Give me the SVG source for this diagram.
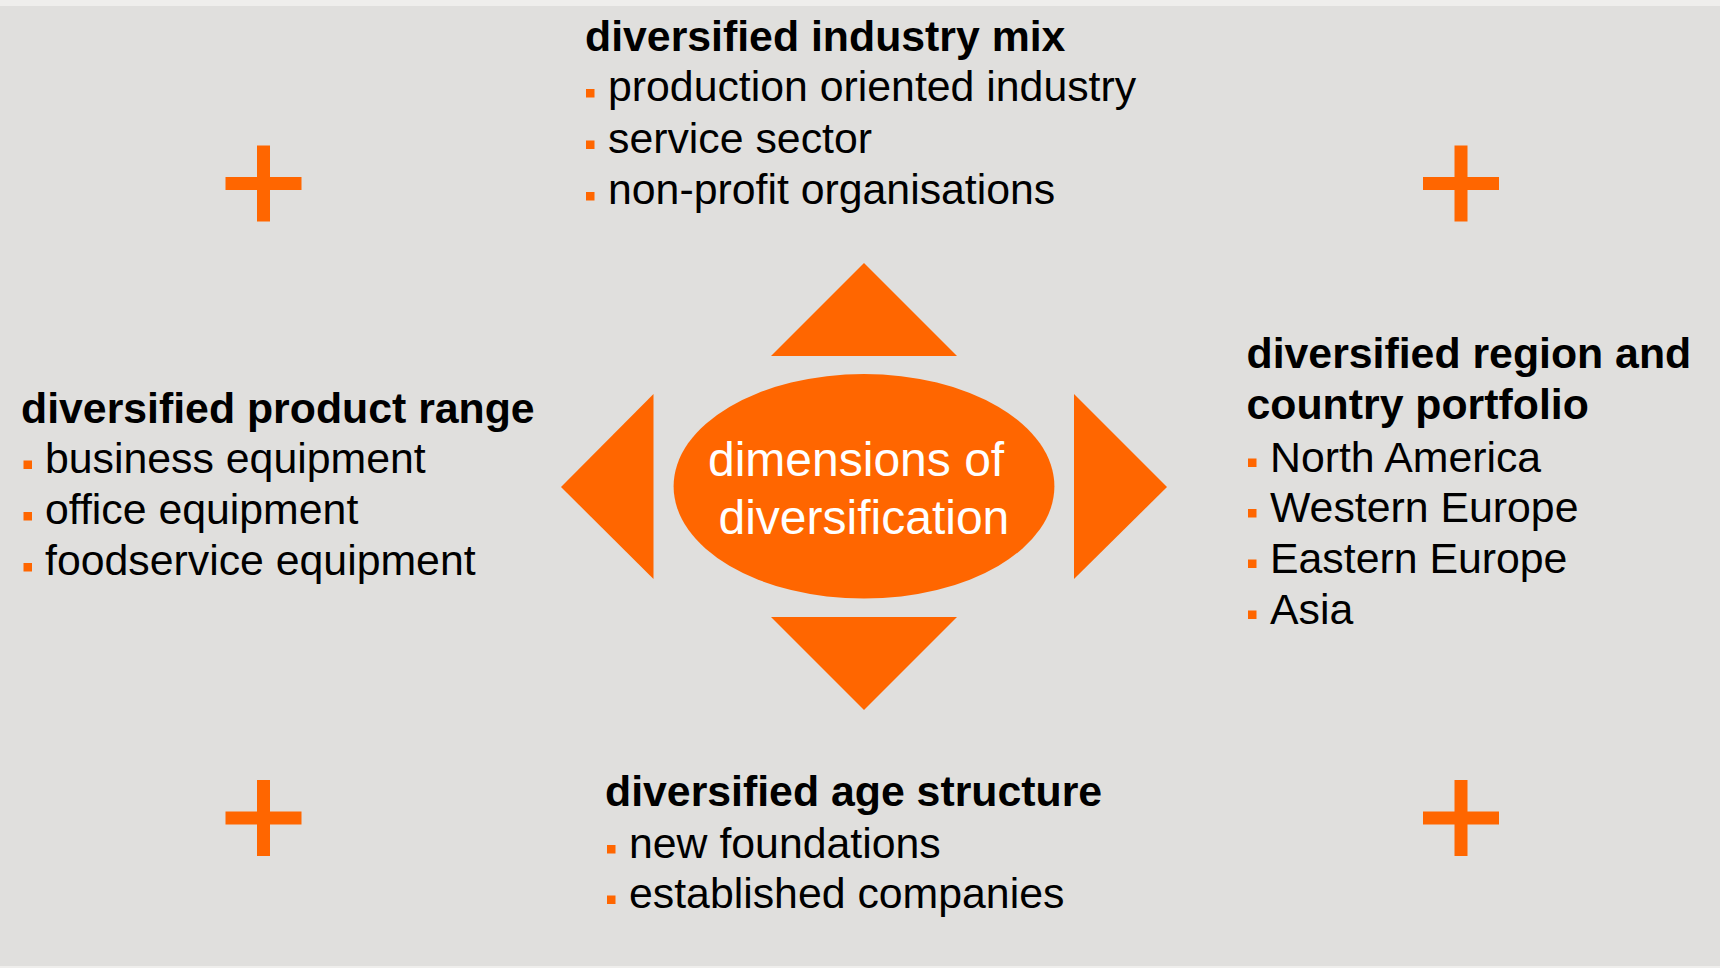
<svg xmlns="http://www.w3.org/2000/svg" width="1720" height="968" viewBox="0 0 1720 968">
  <style>
    .t { font-family: "Liberation Sans", Arial, sans-serif; font-size: 42.8px; fill: #000; }
    .h { font-weight: bold; }
    .c { font-family: "Liberation Sans", Arial, sans-serif; font-size: 48px; fill: #fff; }
    .o { fill: #ff6600; }
  </style>
  <defs>
    <rect id="sq" width="8.5" height="8.5" fill="#ff6600"/>
    <g id="plus">
      <rect x="-6.5" y="-38" width="13" height="76" fill="#ff6600"/>
      <rect x="-38" y="-6.5" width="76" height="13" fill="#ff6600"/>
    </g>
  </defs>
  <rect width="1720" height="968" fill="#e0dfdd"/>
  <rect width="1720" height="6" fill="#efeeec"/>
  <rect y="966" width="1720" height="2" fill="#efeeec"/>

  <g id="plus-signs">
    <use href="#plus" x="263.5" y="183.5"/>
    <use href="#plus" x="1461" y="183.5"/>
    <use href="#plus" x="263.5" y="818"/>
    <use href="#plus" x="1461" y="818"/>
  </g>

  <g id="connectors">
    <polygon class="o" points="864,263 957,356 771,356"/>
    <polygon class="o" points="771,617 957,617 864,710"/>
    <polygon class="o" points="561,487 653.5,394 653.5,579"/>
    <polygon class="o" points="1074,394 1167,487 1074,579"/>
  </g>

  <g id="center">
    <ellipse class="o" cx="864" cy="486.3" rx="190.4" ry="112.3"/>
    <text class="c" x="708" y="475.5">dimensions of</text>
    <text class="c" x="718.5" y="533.8">diversification</text>
  </g>

  <g id="industry-mix">
    <text class="t h" x="585" y="51">diversified industry mix</text>
    <use href="#sq" x="586" y="89"/>
    <text class="t" x="608" y="101">production oriented industry</text>
    <use href="#sq" x="586" y="140.5"/>
    <text class="t" x="608" y="152.7">service sector</text>
    <use href="#sq" x="586" y="192"/>
    <text class="t" x="608" y="204.3">non-profit organisations</text>
  </g>

  <g id="product-range">
    <text class="t h" x="21" y="422.5">diversified product range</text>
    <use href="#sq" x="23.5" y="460.5"/>
    <text class="t" x="45" y="472.5">business equipment</text>
    <use href="#sq" x="23.5" y="512"/>
    <text class="t" x="45" y="524">office equipment</text>
    <use href="#sq" x="23.5" y="563"/>
    <text class="t" x="45" y="575">foodservice equipment</text>
  </g>

  <g id="region-portfolio">
    <text class="t h" x="1246.5" y="367.5">diversified region and</text>
    <text class="t h" x="1246.5" y="419">country portfolio</text>
    <use href="#sq" x="1248" y="458.5"/>
    <text class="t" x="1270" y="471.5">North America</text>
    <use href="#sq" x="1248" y="509"/>
    <text class="t" x="1270" y="522">Western Europe</text>
    <use href="#sq" x="1248" y="559.5"/>
    <text class="t" x="1270" y="572.5">Eastern Europe</text>
    <use href="#sq" x="1248" y="610.5"/>
    <text class="t" x="1270" y="623.5">Asia</text>
  </g>

  <g id="age-structure">
    <text class="t h" x="605" y="806">diversified age structure</text>
    <use href="#sq" x="607" y="845"/>
    <text class="t" x="629" y="857.5">new foundations</text>
    <use href="#sq" x="607" y="895.5"/>
    <text class="t" x="629" y="907.5">established companies</text>
  </g>
</svg>
